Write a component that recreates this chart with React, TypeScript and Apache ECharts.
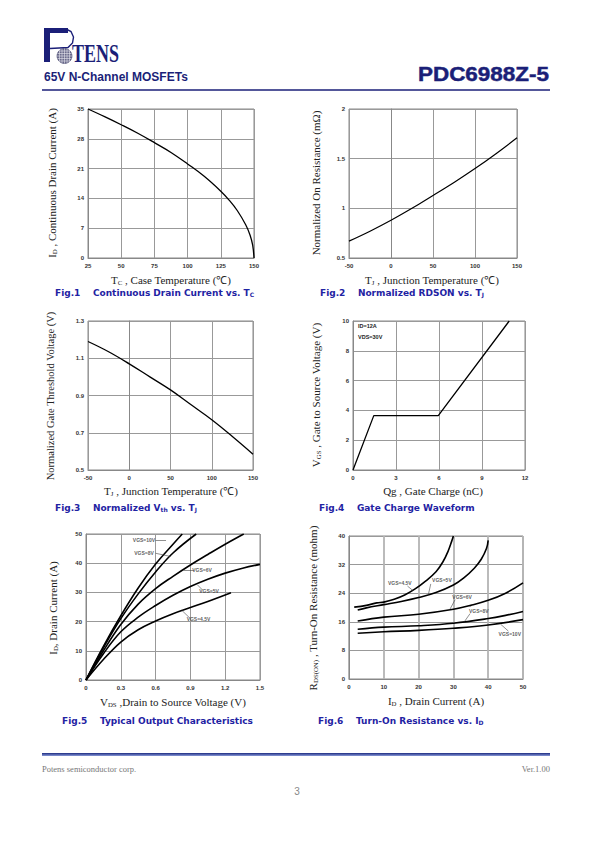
import React, { useEffect, useRef } from 'react';
import * as echarts from 'echarts';

// ---------- Fig.1 Continuous Drain Current vs. Tc ----------
const fig1Tc = [25, 37.5, 50, 62.5, 75, 87.5, 100, 112.5, 125, 131.25, 137.5, 143.75, 147, 149, 150];
const fig1Id = [35, 33.2, 31.3, 29.3, 27.1, 24.8, 22.1, 19.2, 15.7, 13.6, 11.1, 7.8, 5.4, 3.0, 0];

// ---------- Fig.2 Normalized RDSON vs. Tj ----------
const fig2Tj = [-50, -25, 0, 25, 50, 75, 100, 125, 150];
const fig2Rdson = [0.67, 0.77, 0.88, 1.0, 1.13, 1.26, 1.4, 1.55, 1.71];

// ---------- Fig.3 Normalized Vth vs. Tj ----------
const fig3Tj = [-50, -25, 0, 25, 50, 75, 100, 125, 150];
const fig3Vth = [1.19, 1.135, 1.07, 1.0, 0.93, 0.85, 0.77, 0.68, 0.585];

// ---------- Fig.4 Gate Charge Waveform ----------
const fig4Qg = [0, 1.45, 5.95, 10.9];
const fig4Vgs = [0, 3.65, 3.65, 10];
const fig4Notes = ['ID=12A', 'VDS=30V'];

// ---------- Fig.5 Typical Output Characteristics ----------
const fig5Vds10 = [0, 0.15, 0.3, 0.45, 0.6, 0.75, 0.83];
const fig5Id10 = [0, 11.5, 22, 31.5, 39.7, 46.5, 50];
const fig5Vds8 = [0, 0.15, 0.3, 0.45, 0.6, 0.75, 0.95];
const fig5Id8 = [0, 11, 21, 29.5, 37, 43.5, 50];
const fig5Vds6 = [0, 0.15, 0.3, 0.45, 0.6, 0.75, 0.9, 1.05, 1.2, 1.36];
const fig5Id6 = [0, 10, 19, 26, 31.3, 35.5, 39.4, 43, 46.5, 50];
const fig5Vds5 = [0, 0.15, 0.3, 0.45, 0.6, 0.75, 0.9, 1.05, 1.2, 1.35, 1.5];
const fig5Id5 = [0, 9, 16.5, 21.5, 25.5, 29, 32, 34.5, 36.6, 38.3, 39.6];
const fig5Vds45 = [0, 0.15, 0.3, 0.45, 0.6, 0.75, 0.9, 1.05, 1.25];
const fig5Id45 = [0, 7, 13, 17.2, 20.2, 22.7, 24.8, 26.9, 29.9];
const fig5Labels = ['VGS=10V', 'VGS=8V', 'VGS=6V', 'VGS=5V', 'VGS=4.5V'];
const fig5LabelAt = [[0.5, 47.9], [0.5, 43.4], [1.0, 37.6], [1.06, 30.4], [0.97, 21.0]];
const fig5LeaderFrom = [[0.6, 48], [0.6, 43.4], [0.84, 37.6], [0.96, 32.6], [0.825, 23.9]];
const fig5LeaderTo = [[0.69, 48], [0.73, 42.3], [0.93, 37.6], [1.0, 31.0], [0.89, 21.4]];

// ---------- Fig.6 Turn-On Resistance vs. ID ----------
const fig6Id45 = [1.5, 5, 8, 10, 13, 16, 19, 22, 25, 27, 28.5, 29.5, 30];
const fig6R45 = [20.1, 20.6, 21.3, 21.5, 22.3, 23.5, 25.2, 27.4, 30, 32.8, 35.8, 38.5, 40];
const fig6Id5 = [2.5, 5, 10, 15, 20, 25, 30, 33, 36, 38, 39.5, 40];
const fig6R5 = [19.3, 19.9, 20.8, 21.7, 22.8, 24.2, 26.3, 28.3, 31, 33.5, 36.5, 38.8];
const fig6Id6 = [2.5, 10, 20, 30, 35, 40, 45, 50];
const fig6R6 = [16.2, 17.3, 18.1, 19.5, 20.6, 22, 24, 26.9];
const fig6Id8 = [2.5, 10, 20, 30, 40, 45, 50];
const fig6R8 = [13.9, 14.5, 14.9, 15.6, 16.9, 17.8, 18.9];
const fig6Id10 = [2.5, 10, 20, 30, 40, 50];
const fig6R10 = [12.8, 13.2, 13.6, 14.2, 15.1, 16.6];
const fig6Labels = ['VGS=4.5V', 'VGS=5V', 'VGS=6V', 'VGS=8V', 'VGS=10V'];
const fig6LabelAt = [[14.6, 26.8], [26.7, 27.6], [32.5, 23], [37.3, 19], [46.2, 12.6]];
const fig6LeaderFrom = [[16.8, 26], [23.5, 26.6], [30.5, 22.2], [34.8, 18.3], [45.8, 13.4]];
const fig6LeaderTo = [[18.3, 24.8], [22.8, 23.6], [29, 19.5], [33.2, 16.1], [43.6, 15.3]];

// ---------- axes (min, max, interval) ----------
const xMin = [25, -50, -50, 0, 0, 0];
const xMax = [150, 150, 150, 12, 1.5, 50];
const xStep = [25, 50, 50, 3, 0.3, 10];
const yMin = [0, 0.5, 0.5, 0, 0, 0];
const yMax = [35, 2, 1.3, 10, 50, 40];
const yStep = [7, 0.5, 0.2, 2, 10, 8];

const NAVY = '#1b1f78';
const CAPC = '#1f23a3';
const SERIF = 'Liberation Serif';
const SANS = 'Liberation Sans';

const pairs = (xs: number[], ys: number[]) => xs.map((x, i) => [x, ys[i]]);

const gridBoxes = [
  { left: 88, top: 109, width: 166, height: 149 },
  { left: 349, top: 109, width: 168, height: 149 },
  { left: 88, top: 321, width: 165, height: 149 },
  { left: 353, top: 321, width: 172, height: 149 },
  { left: 86, top: 534, width: 174, height: 146 },
  { left: 349, top: 536, width: 174, height: 143 },
];

const titleRich = (size: number) => ({
  m: { fontSize: size, fontFamily: SERIF, fill: '#222' },
  s: { fontSize: size * 0.62, fontFamily: SERIF, fill: '#222', verticalAlign: 'bottom' },
});
const capRich = {
  f: { fontSize: 9, fontFamily: 'DejaVu Sans', fontWeight: 'bold', fill: CAPC },
  s: { fontSize: 6, fontFamily: 'DejaVu Sans', fontWeight: 'bold', fill: CAPC, verticalAlign: 'bottom' },
};

function xTitle(cx: number, cy: number, text: string) {
  return { type: 'text', x: cx, y: cy, style: { text, rich: titleRich(11), align: 'center', verticalAlign: 'middle' } };
}
function yTitle(cx: number, cy: number, text: string, size = 11) {
  return {
    type: 'text', x: cx, y: cy, rotation: Math.PI / 2,
    style: { text, rich: titleRich(size), align: 'center', verticalAlign: 'middle' },
  };
}
function caption(x: number, y: number, text: string) {
  return { type: 'text', x, y, style: { text, rich: capRich, align: 'left', verticalAlign: 'middle' } };
}

function lineSeries(i: number, data: number[][], width = 1.2, smooth: number | boolean = 0.4) {
  return {
    type: 'line', xAxisIndex: i, yAxisIndex: i, data, showSymbol: false, symbol: 'none',
    smooth, silent: true,
    lineStyle: { color: '#000', width },
  };
}

function labelSeries(i: number, names: string[], at: number[][], from: number[][], to: number[][]) {
  return {
    type: 'scatter', xAxisIndex: i, yAxisIndex: i, symbolSize: 1, silent: true,
    itemStyle: { color: 'rgba(0,0,0,0)' },
    data: names.map((n, k) => ({ name: n, value: at[k] })),
    label: {
      show: true, position: 'inside', formatter: (p: any) => p.name,
      fontSize: 5, fontWeight: 'bold', fontFamily: SANS, color: '#333',
    },
    markLine: {
      silent: true, symbol: ['none', 'none'], label: { show: false },
      lineStyle: { color: '#444', width: 0.6, type: 'solid' },
      data: from.map((f, k) => [{ coord: f }, { coord: to[k] }]),
    },
  };
}

export default function App() {
  const ref = useRef<HTMLDivElement>(null);
  useEffect(() => {
    const chart = echarts.init(ref.current!, null, { renderer: 'svg', width: 595, height: 842 });

    const grid = gridBoxes.map((g) => ({ ...g, show: true, borderColor: '#888', borderWidth: 1, backgroundColor: '#fff' }));
    const axisLabel = { fontSize: 6, fontWeight: 'bold', fontFamily: SANS, color: '#333' };
    const xAxis = gridBoxes.map((_, i) => ({
      type: 'value', gridIndex: i, min: xMin[i], max: xMax[i], interval: xStep[i],
      axisLine: { show: true, lineStyle: { color: '#888', width: 1 } },
      axisTick: { show: false },
      axisLabel: { ...axisLabel, margin: 5 },
      splitLine: { show: true, lineStyle: i === 5 ? { color: '#b4b4b4', width: 1.8 } : { color: '#999', width: 1 } },
    }));
    const yAxis = gridBoxes.map((_, i) => ({
      type: 'value', gridIndex: i, min: yMin[i], max: yMax[i], interval: yStep[i],
      axisLine: { show: true, lineStyle: { color: '#888', width: 1 } },
      axisTick: { show: false },
      axisLabel: { ...axisLabel, margin: 4 },
      splitLine: { show: true, lineStyle: { color: '#999', width: 1 } },
    }));

    const series: any[] = [
      lineSeries(0, pairs(fig1Tc, fig1Id), 1.3),
      lineSeries(1, pairs(fig2Tj, fig2Rdson), 1.2),
      lineSeries(2, pairs(fig3Tj, fig3Vth), 1.3),
      lineSeries(3, pairs(fig4Qg, fig4Vgs), 1.3, false),
      lineSeries(4, pairs(fig5Vds10, fig5Id10), 1.6),
      lineSeries(4, pairs(fig5Vds8, fig5Id8), 1.6),
      lineSeries(4, pairs(fig5Vds6, fig5Id6), 1.6),
      lineSeries(4, pairs(fig5Vds5, fig5Id5), 1.6),
      lineSeries(4, pairs(fig5Vds45, fig5Id45), 1.6),
      labelSeries(4, fig5Labels, fig5LabelAt, fig5LeaderFrom, fig5LeaderTo),
      lineSeries(5, pairs(fig6Id45, fig6R45), 1.6),
      lineSeries(5, pairs(fig6Id5, fig6R5), 1.6),
      lineSeries(5, pairs(fig6Id6, fig6R6), 1.6),
      lineSeries(5, pairs(fig6Id8, fig6R8), 1.6),
      lineSeries(5, pairs(fig6Id10, fig6R10), 1.6),
      labelSeries(5, fig6Labels, fig6LabelAt, fig6LeaderFrom, fig6LeaderTo),
    ];

    // globe grid chords (logo decoration)
    const gx = 64.5, gy = 56, gr = 7.5;
    const chords: any[] = [];
    [-5, -2.5, 0, 2.5, 5].forEach((d) => {
      const h = Math.sqrt(gr * gr - d * d);
      chords.push({ type: 'line', shape: { x1: gx - h, y1: gy + d, x2: gx + h, y2: gy + d }, style: { stroke: '#e8e8f0', lineWidth: 0.6 } });
      chords.push({ type: 'line', shape: { x1: gx + d, y1: gy - h, x2: gx + d, y2: gy + h }, style: { stroke: '#e8e8f0', lineWidth: 0.6 } });
    });

    const graphic: any[] = [
      // logo
      { type: 'rect', shape: { x: 44, y: 28, width: 6, height: 34 }, style: { fill: NAVY } },
      { type: 'rect', shape: { x: 44, y: 28, width: 24, height: 5 }, style: { fill: NAVY } },
      {
        type: 'polyline',
        shape: { points: [[66, 29], [71, 31.5], [73.5, 37], [72.5, 43], [68, 47.5], [50, 48.5]] },
        style: { stroke: NAVY, lineWidth: 1.4, fill: 'none' },
      },
      { type: 'circle', shape: { cx: gx, cy: gy, r: gr }, style: { fill: '#6c6c8c', stroke: '#3a3a66', lineWidth: 0.6 } },
      ...chords,
      {
        type: 'text', x: 72, y: 66, scaleX: 0.72,
        style: { text: 'TENS', font: 'bold 25px "Liberation Serif"', fill: NAVY, align: 'left', verticalAlign: 'bottom' },
      },
      // header
      { type: 'text', x: 44, y: 77, style: { text: '65V N-Channel MOSFETs', font: 'bold 12px "Liberation Sans"', fill: NAVY, align: 'left', verticalAlign: 'middle' } },
      {
        type: 'text', x: 549, y: 74, scaleX: 1.07,
        style: { text: 'PDC6988Z-5', font: 'bold 21px "Liberation Sans"', fill: NAVY, stroke: NAVY, lineWidth: 0.5, align: 'right', verticalAlign: 'middle' },
      },
      { type: 'line', shape: { x1: 42, y1: 90, x2: 550, y2: 90 }, style: { stroke: NAVY, lineWidth: 1.5 } },

      // axis titles
      xTitle(171, 280, '{m|T}{s|C}{m| , Case Temperature (℃)}'),
      yTitle(52, 183, '{m|I}{s|D}{m| , Continuous Drain Current (A)}'),
      xTitle(432, 280, '{m|T}{s|J}{m| , Junction Temperature (℃)}'),
      yTitle(316, 183, '{m|Normalized On Resistance (mΩ)}'),
      xTitle(171, 491, '{m|T}{s|J}{m| , Junction Temperature (℃)}'),
      yTitle(50, 396, '{m|Normalized Gate Threshold Voltage (V)}', 10.5),
      xTitle(433, 491, '{m|Qg , Gate Charge (nC)}'),
      yTitle(316, 395, '{m|V}{s|GS}{m| , Gate to Source Voltage (V)}'),
      xTitle(173, 702, '{m|V}{s|DS}{m| ,Drain to Source Voltage (V)}'),
      yTitle(53, 608, '{m|I}{s|D}{m|, Drain Current (A)}'),
      xTitle(436, 701, '{m|I}{s|D}{m| , Drain Current (A)}'),
      yTitle(313, 608, '{m|R}{s|DS(ON)}{m| , Turn-On Resistance (mohm)}'),

      // fig.4 notes
      {
        type: 'text', x: 358, y: 326,
        style: { text: fig4Notes[0], font: 'bold 5.5px "Liberation Sans"', fill: '#222', align: 'left', verticalAlign: 'middle' },
      },
      {
        type: 'text', x: 358, y: 337,
        style: { text: fig4Notes[1], font: 'bold 5.5px "Liberation Sans"', fill: '#222', align: 'left', verticalAlign: 'middle' },
      },

      // captions
      caption(55, 293, '{f|Fig.1    Continuous Drain Current vs. T}{s|C}'),
      caption(320, 293, '{f|Fig.2    Normalized RDSON vs. T}{s|J}'),
      caption(55, 508, '{f|Fig.3    Normalized V}{s|th}{f| vs. T}{s|J}'),
      caption(319, 508, '{f|Fig.4    Gate Charge Waveform}'),
      caption(62, 721, '{f|Fig.5    Typical Output Characteristics}'),
      caption(318, 721, '{f|Fig.6    Turn-On Resistance vs. I}{s|D}'),

      // footer
      {
        type: 'rect', shape: { x: 42, y: 753, width: 508, height: 3 },
        style: {
          fill: new echarts.graphic.LinearGradient(0, 0, 0, 1, [
            { offset: 0, color: '#1b2a80' },
            { offset: 1, color: '#8a9ad8' },
          ]),
        },
      },
      { type: 'text', x: 42, y: 769, style: { text: 'Potens semiconductor corp.', font: '8.5px "Liberation Serif"', fill: '#777', align: 'left', verticalAlign: 'middle' } },
      { type: 'text', x: 550, y: 769, style: { text: 'Ver.1.00', font: '8.5px "Liberation Serif"', fill: '#777', align: 'right', verticalAlign: 'middle' } },
      { type: 'text', x: 297, y: 791, style: { text: '3', font: '10px "Liberation Sans"', fill: '#888', align: 'center', verticalAlign: 'middle' } },
    ];

    chart.setOption({
      animation: false,
      backgroundColor: '#fff',
      grid, xAxis, yAxis, series, graphic,
    });
    return () => chart.dispose();
  }, []);
  return (
    <div
      ref={ref}
      style={{ position: 'absolute', left: 0, top: 0, width: 595, height: 842, background: '#fff' }}
    />
  );
}
